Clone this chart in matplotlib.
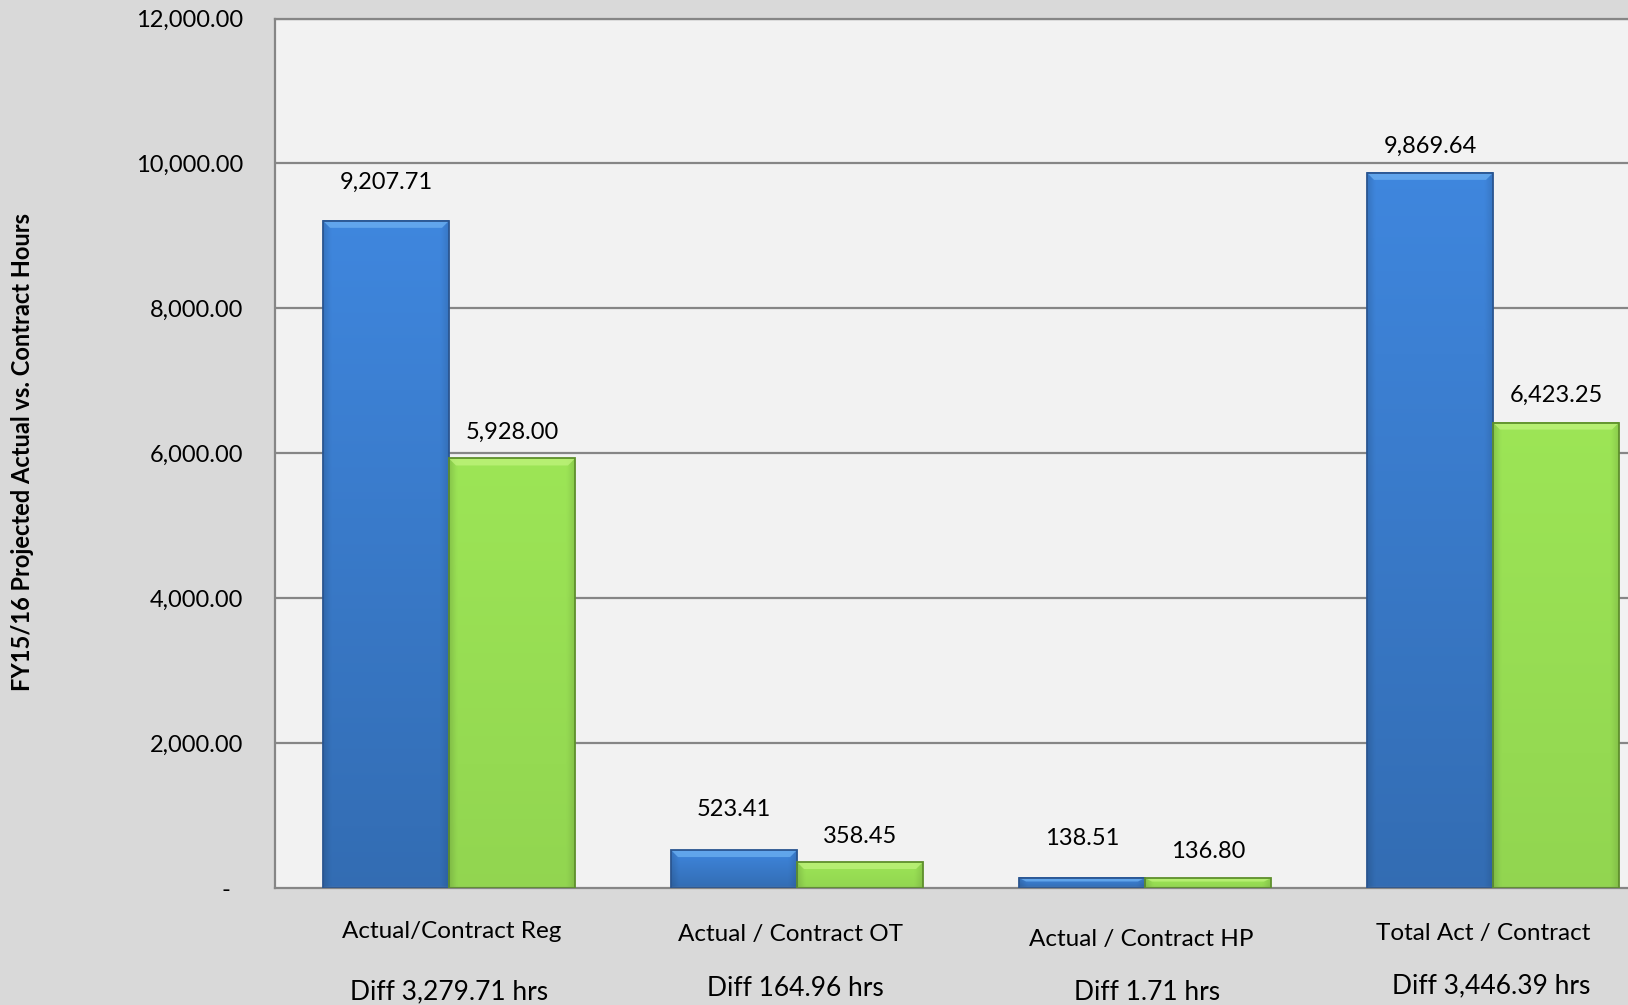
import numpy as np
import matplotlib.pyplot as plt
from matplotlib.colors import to_rgb
from matplotlib.patches import Polygon, Rectangle
from matplotlib.ticker import FuncFormatter
import matplotlib.transforms as mtrans

plt.rcParams['font.family'] = ['Lato', 'DejaVu Sans']

categories = ["Actual/Contract Reg", "Actual / Contract OT",
              "Actual / Contract HP", "Total Act / Contract"]
diff_labels = ["Diff 3,279.71 hrs", "Diff 164.96 hrs",
               "Diff 1.71 hrs", "Diff 3,446.39 hrs"]
actual_hrs = [9207.71, 523.41, 138.51, 9869.64]
contract_hrs = [5928.00, 358.45, 136.80, 6423.25]

# label gap above each bar top, in pixels
actual_pad = [38, 41, 39, 27]
contract_pad = [26, 26, 27, 27]
# category text boxes sit a little off-centre (pixel shifts: dx, y)
cat_dx = [3, -7, -4, -10]
cat_y = [931, 934, 939, 933]
diff_dx = [0, -2, 2, -2]
diff_y = [992, 988, 992, 986]

W, H = 1628, 1005
fig = plt.figure(figsize=(W / 100, H / 100), dpi=100, facecolor='#D9D9D9')
ax_left, ax_right, ax_top, ax_bot = 275, 1667, 18.5, 888
ax = fig.add_axes([ax_left / W, (H - ax_bot) / H,
                   (ax_right - ax_left) / W, (ax_bot - ax_top) / H])
ax.set_facecolor('#F2F2F2')
ax.set_xlim(-0.5, 3.5)
ax.set_ylim(0, 12000)

grid_col = '#868686'
for yv in range(2000, 12001, 2000):
    ax.axhline(yv, color=grid_col, lw=1.6, zorder=1)
for s in ['left', 'top', 'bottom']:
    ax.spines[s].set_color(grid_col)
    ax.spines[s].set_linewidth(1.6)
ax.spines['right'].set_visible(False)

ax.set_yticks(range(0, 12001, 2000))
ax.yaxis.set_major_formatter(FuncFormatter(
    lambda v, p: "-  " if v == 0 else f"{v:,.2f}"))
ax.tick_params(axis='y', length=0, pad=23, labelsize=17)
ax.set_xticks([])

fig.text(23 / W, (H - 452) / H, "FY15/16 Projected Actual vs. Contract Hours",
         rotation=90, ha='center', va='center', fontsize=17, fontweight='bold')

# data units per pixel, for bevel sizes
px_x = 4.0 / (ax_right - ax_left)
px_y = 12000 / (ax_bot - ax_top)


def shaded_bar(x0, w, h, base, edge, light, fade):
    base = np.array(to_rgb(base))
    nx, ny = 60, 60
    u = np.linspace(0, 1, nx)
    v = np.linspace(0, 1, ny)[:, None]
    horiz = 1 - 0.12 * np.clip(1 - u / 0.06, 0, 1) - 0.10 * np.clip(1 - (1 - u) / 0.06, 0, 1)
    vert = 1.05 - fade * v
    img = np.clip(base[None, None, :] * (horiz[None, :] * vert)[:, :, None], 0, 1)
    ax.imshow(img, extent=(x0, x0 + w, 0, h), aspect='auto',
              interpolation='bilinear', zorder=2)
    bw = min(7 * px_y, h * 0.35)
    bx = 7 * px_x
    ax.add_patch(Polygon([(x0, h), (x0 + w, h), (x0 + w - bx, h - bw),
                          (x0 + bx, h - bw)], closed=True,
                         facecolor=light, edgecolor='none', alpha=0.8, zorder=3))
    ax.add_patch(Rectangle((x0, 0), w, h, facecolor='none',
                           edgecolor=edge, lw=1.3, zorder=4))


bw_bar = 0.362
xs = np.arange(len(categories))
for i, x in enumerate(xs):
    shaded_bar(x - bw_bar, bw_bar, actual_hrs[i], '#3C80D3', '#2A5590', '#6AAEF0', 0.2)
    shaded_bar(x, bw_bar, contract_hrs[i], '#95DA52', '#5E8F2C', '#BDF27A', 0.07)
    ax.annotate(f"{actual_hrs[i]:,.2f}", (x - bw_bar / 2, actual_hrs[i]),
                xytext=(0, actual_pad[i] * 0.72), textcoords='offset points',
                ha='center', va='center', fontsize=17)
    ax.annotate(f"{contract_hrs[i]:,.2f}", (x + bw_bar / 2, contract_hrs[i]),
                xytext=(0, contract_pad[i] * 0.72), textcoords='offset points',
                ha='center', va='center', fontsize=17)

for i, x in enumerate(xs):
    tr = ax.transData + mtrans.ScaledTranslation(cat_dx[i] / 100, 0, fig.dpi_scale_trans)
    tr = mtrans.blended_transform_factory(tr, fig.transFigure)
    fig.text(x, (H - cat_y[i]) / H, categories[i], transform=tr,
             ha='center', va='center', fontsize=17.5)
    tr = ax.transData + mtrans.ScaledTranslation(diff_dx[i] / 100, 0, fig.dpi_scale_trans)
    tr = mtrans.blended_transform_factory(tr, fig.transFigure)
    fig.text(x, (H - diff_y[i]) / H, diff_labels[i], transform=tr,
             ha='center', va='center', fontsize=19)

fig.savefig("out.png", dpi=100, facecolor=fig.get_facecolor())
